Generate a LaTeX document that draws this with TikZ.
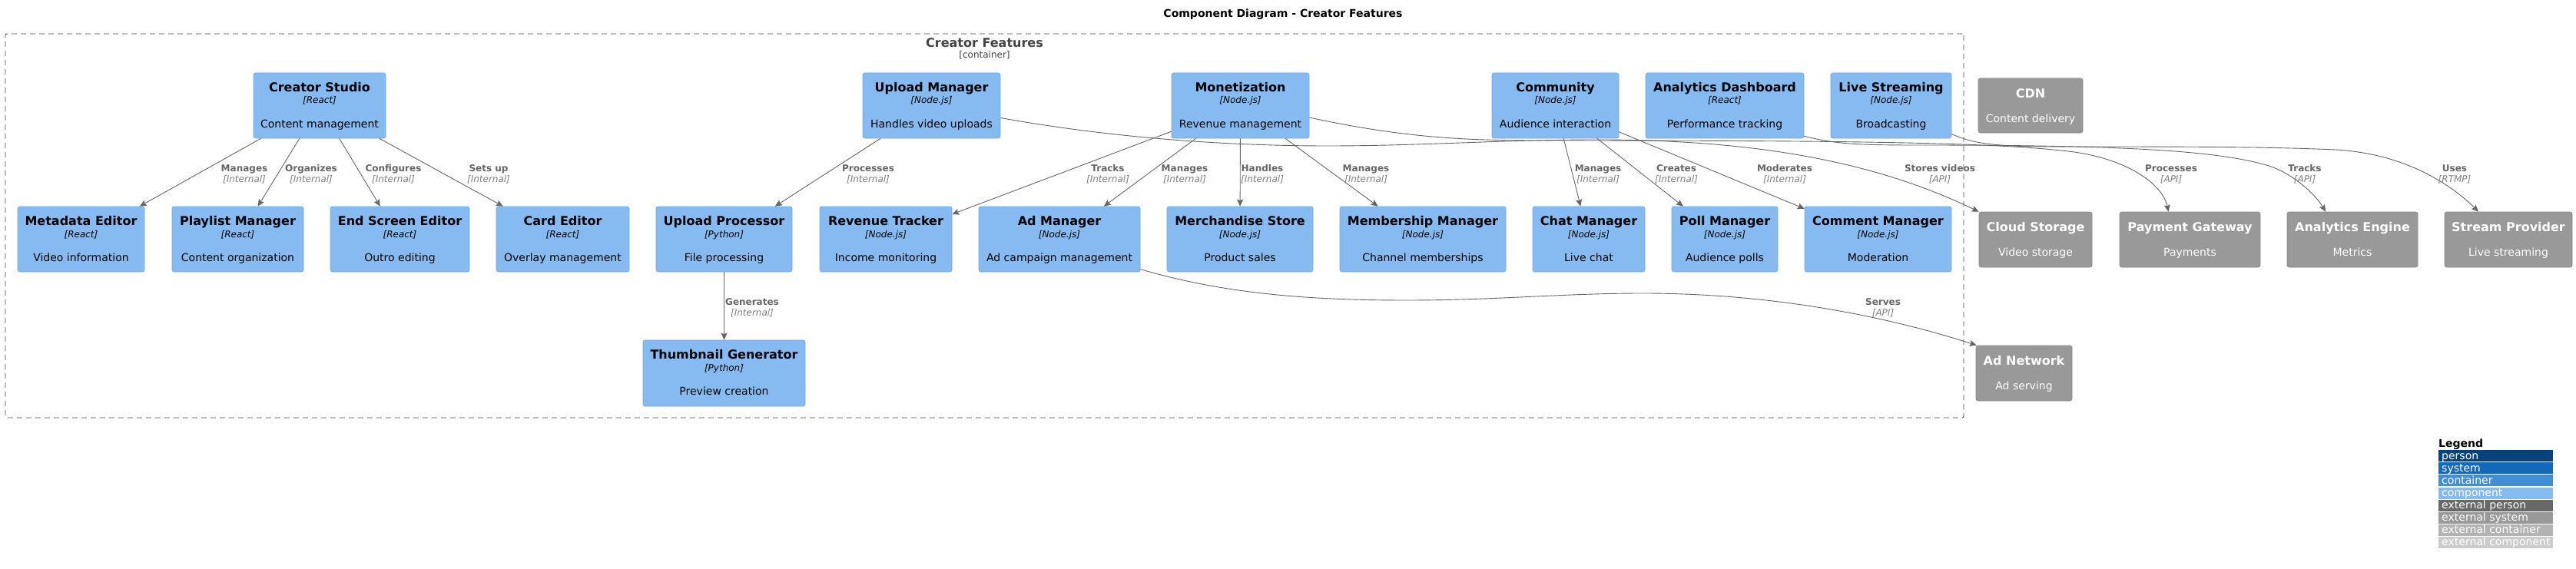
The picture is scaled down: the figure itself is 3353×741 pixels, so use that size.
\documentclass[tikz,border=0pt]{standalone}
\usepackage{fontspec}
\setmainfont{DejaVu Sans}
\usetikzlibrary{calc,arrows.meta}
\definecolor{compfill}{HTML}{85BBF0}
\definecolor{compline}{HTML}{78A8D8}
\definecolor{extfill}{HTML}{999999}
\definecolor{extline}{HTML}{8A8A8A}
\definecolor{relc}{HTML}{666666}
\definecolor{reltech}{HTML}{808080}
\definecolor{bndc}{HTML}{444444}
\definecolor{lgperson}{HTML}{08427B}
\definecolor{lgsystem}{HTML}{1168BD}
\definecolor{lgcontainer}{HTML}{438DD5}
\definecolor{lgcomponent}{HTML}{85BBF0}
\definecolor{lgextperson}{HTML}{686868}
\definecolor{lgextsystem}{HTML}{999999}
\definecolor{lgextcontainer}{HTML}{B3B3B3}
\definecolor{lgextcomponent}{HTML}{CCCCCC}
\newcommand{\fsz}[2]{\fontsize{#1}{#2}\selectfont}
\tikzset{
  comp/.style={draw=compline, fill=compfill, rounded corners=2.5pt, inner sep=0pt, line width=0.6pt},
  extbox/.style={draw=extline, fill=extfill, rounded corners=2.5pt, inner sep=0pt, line width=0.6pt},
  ctitle/.style={anchor=base, inner sep=0pt, font={\fsz{16}{18}\bfseries}},
  ctech/.style={anchor=base, inner sep=0pt, font={\fsz{12}{14}\itshape}},
  cdesc/.style={anchor=base, inner sep=0pt, font={\fsz{14}{16}}},
  etitle/.style={anchor=base, inner sep=0pt, text=white, font={\fsz{16}{18}\bfseries}},
  edesc/.style={anchor=base, inner sep=0pt, text=white, font={\fsz{14}{16}}},
  rl1/.style={anchor=base, inner sep=0pt, text=relc, font={\fsz{12}{14}\bfseries}},
  rl2/.style={anchor=base, inner sep=0pt, text=reltech, font={\fsz{12}{14}\itshape}},
  rel/.style={draw=relc, line width=0.9pt, -{Stealth[length=9pt,width=8pt,inset=1.5pt]}},
  bnd/.style={draw=bndc, line width=0.9pt, dash pattern=on 7pt off 5pt, rounded corners=2pt, inner sep=0pt},
  lgrow/.style={inner sep=0pt, minimum width=149pt, minimum height=15pt},
  lgtext/.style={anchor=base west, inner sep=0pt, text=white, font={\fsz{14}{16}}},
}
\newcommand{\compbox}[8]{%
  \node[comp, minimum width={(#4-#2)*1pt}, minimum height={(#5-#3)*1pt}] (#1) at ({(#2+#4)/2},{(#3+#5)/2}) {};
  \node[ctitle] (#1-t) at ($(#1.north)+(0,25)$) {#6};
  \node[ctech] (#1-k) at ($(#1.north)+(0,40.3)$) {[#7]};
  \node[cdesc] (#1-d) at ($(#1.north)+(0,72)$) {#8};
}
\newcommand{\extsys}[7]{%
  \node[extbox, minimum width={(#4-#2)*1pt}, minimum height={(#5-#3)*1pt}] (#1) at ({(#2+#4)/2},{(#3+#5)/2}) {};
  \node[etitle] (#1-t) at ($(#1.north)+(0,26)$) {#6};
  \node[edesc] (#1-d) at ($(#1.north)+(0,58)$) {#7};
}
\newcommand{\rlab}[5]{%
  \node[rl1] (#1a) at (#2,#3) {#4};
  \node[rl2] (#1b) at (#2,#3+14) {[#5]};
}
\newcommand{\lgentry}[4]{%
  \node[lgrow, fill=#2, anchor=north west] (lg#1) at (3174,#4) {};
  \node[lgtext] (lgt#1) at ($(lg#1.west)+(4,4.5)$) {#3};
}
\begin{document}
\begin{tikzpicture}[x=1pt,y=-1pt]
\useasboundingbox (0,0) rectangle (3353,741);
\fill[white] (0,0) rectangle (3353,741);

% title
\node[anchor=base, inner sep=0pt, font={\fsz{14}{16}\bfseries}] (title) at (1670,23) {Component Diagram - Creator Features};

% boundary
\node[bnd, minimum width=2549pt, minimum height=500pt] (cont) at (1281.5,294) {};
\node[anchor=base, inner sep=0pt, text=bndc, font={\fsz{16}{18}\bfseries}] (cont-t) at (1281.5,62) {Creator Features};
\node[anchor=base, inner sep=0pt, text=bndc, font={\fsz{12}{14}}] (cont-k) at (1281.5,76) {[container]};

% row 1
\compbox{cs}{330}{95}{502}{180}{Creator Studio}{React}{Content management}
\compbox{um}{1123}{95}{1302}{180}{Upload Manager}{Node.js}{Handles video uploads}
\compbox{mon}{1525}{95}{1704}{180}{Monetization}{Node.js}{Revenue management}
\compbox{com}{1942}{95}{2107}{180}{Community}{Node.js}{Audience interaction}
\compbox{ad}{2142}{95}{2348}{180}{Analytics Dashboard}{React}{Performance tracking}
\compbox{ls}{2383}{95}{2540}{180}{Live Streaming}{Node.js}{Broadcasting}
% row 2
\compbox{meta}{23}{269}{188}{354}{Metadata Editor}{React}{Video information}
\compbox{pl}{224}{269}{395}{354}{Playlist Manager}{React}{Content organization}
\compbox{ese}{430}{269}{611}{354}{End Screen Editor}{React}{Outro editing}
\compbox{ce}{646}{269}{819}{354}{Card Editor}{React}{Overlay management}
\compbox{up}{854}{269}{1031}{354}{Upload Processor}{Python}{File processing}
\compbox{rt}{1067}{269}{1239}{354}{Revenue Tracker}{Node.js}{Income monitoring}
\compbox{am}{1274}{269}{1484}{354}{Ad Manager}{Node.js}{Ad campaign management}
\compbox{ms}{1519}{269}{1709}{354}{Merchandise Store}{Node.js}{Product sales}
\compbox{mm}{1744}{269}{1960}{354}{Membership Manager}{Node.js}{Channel memberships}
\compbox{chat}{1995}{269}{2141}{354}{Chat Manager}{Node.js}{Live chat}
\compbox{poll}{2176}{269}{2314}{354}{Poll Manager}{Node.js}{Audience polls}
\compbox{cm}{2349}{269}{2540}{354}{Comment Manager}{Node.js}{Moderation}
% row 3
\compbox{tg}{837}{443}{1048}{529}{Thumbnail Generator}{Python}{Preview creation}

% external systems
\extsys{cdn}{2575}{102}{2711}{173}{CDN}{Content delivery}
\extsys{cloud}{2576}{276}{2723}{348}{Cloud Storage}{Video storage}
\extsys{pg}{2759}{276}{2942}{348}{Payment Gateway}{Payments}
\extsys{ae}{2977}{276}{3147}{348}{Analytics Engine}{Metrics}
\extsys{sp}{3182}{276}{3348}{348}{Stream Provider}{Live streaming}
\extsys{an}{2572}{450}{2697}{522}{Ad Network}{Ad serving}

% straight relations
\draw[rel] (cs) -- (meta);
\draw[rel] (cs) -- (pl);
\draw[rel] (cs) -- (ese);
\draw[rel] (cs) -- (ce);
\draw[rel] (um) -- (up);
\draw[rel] (mon) -- (rt);
\draw[rel] (mon) -- (am);
\draw[rel] (mon) -- (ms);
\draw[rel] (mon) -- (mm);
\draw[rel] (com) -- (chat);
\draw[rel] (com) -- (poll);
\draw[rel] (com) -- (cm);
\draw[rel] (up) -- (tg);

% curved relations
\draw[rel] ($(um.east)+(0,16)$) .. controls (1450,180) and (1600,190) .. (1728,190)
  .. controls (1850,190) and (1950,182) .. (2080,182)
  .. controls (2300,182) and (2450,215) .. (cloud.north west);
\draw[rel] ($(mon.east)+(0,15.5)$) .. controls (1820,178) and (1900,183) .. (2000,183)
  .. controls (2400,183) and (2600,185) .. (2700,198)
  .. controls (2770,208) and (2815,240) .. ($(pg.north)+(-28,0)$);
\draw[rel] ($(ad.south east)+(0,-3)$) .. controls (2390,188) and (2420,189) .. (2500,189)
  .. controls (2750,189) and (2880,195) .. (2950,215)
  .. controls (2985,225) and (3015,255) .. ($(ae.north)+(-35,0)$);
\draw[rel] ($(ls.east)+(0,37)$) .. controls (2570,188) and (2600,191) .. (2680,191)
  .. controls (2850,191) and (2950,191) .. (3040,195)
  .. controls (3130,200) and (3190,240) .. ($(sp.north)+(-39,0)$);
\draw[rel] ($(am.east)+(0,39)$) .. controls (1600,385) and (1720,391) .. (1831,391)
  .. controls (1950,391) and (2030,382) .. (2139,382)
  .. controls (2300,382) and (2450,410) .. ($(an.north west)+(1,0)$);

% relation labels
\rlab{l1}{318}{223.5}{Manages}{Internal}
\rlab{l2}{405}{223.5}{Organizes}{Internal}
\rlab{l3}{512}{223.5}{Configures}{Internal}
\rlab{l4}{636}{223.5}{Sets up}{Internal}
\rlab{l5}{1130}{223.5}{Processes}{Internal}
\rlab{l6}{1442}{223.5}{Tracks}{Internal}
\rlab{l7}{1542}{223.5}{Manages}{Internal}
\rlab{l8}{1643}{223.5}{Handles}{Internal}
\rlab{l9}{1778}{223.5}{Manages}{Internal}
\rlab{l10}{2080}{223.5}{Manages}{Internal}
\rlab{l11}{2182}{223.5}{Creates}{Internal}
\rlab{l12}{2323}{223.5}{Moderates}{Internal}
\rlab{l13}{2525}{223.5}{Stores videos}{API}
\rlab{l14}{2826}{223.5}{Processes}{API}
\rlab{l15}{3000}{223.5}{Tracks}{API}
\rlab{l16}{3195}{223.5}{Uses}{RTMP}
\rlab{l17}{979}{397.5}{Generates}{Internal}
\rlab{l18}{2451}{397.5}{Serves}{API}

% legend
\node[anchor=base west, inner sep=0pt, font={\fsz{14}{16}\bfseries}] (lgtitle) at (3174,582) {Legend};
\lgentry{1}{lgperson}{person}{586}
\lgentry{2}{lgsystem}{system}{602.1}
\lgentry{3}{lgcontainer}{container}{618.2}
\lgentry{4}{lgcomponent}{component}{634.3}
\lgentry{5}{lgextperson}{external person}{650.4}
\lgentry{6}{lgextsystem}{external system}{666.5}
\lgentry{7}{lgextcontainer}{external container}{682.6}
\lgentry{8}{lgextcomponent}{external component}{698.7}
\end{tikzpicture}
\end{document}
